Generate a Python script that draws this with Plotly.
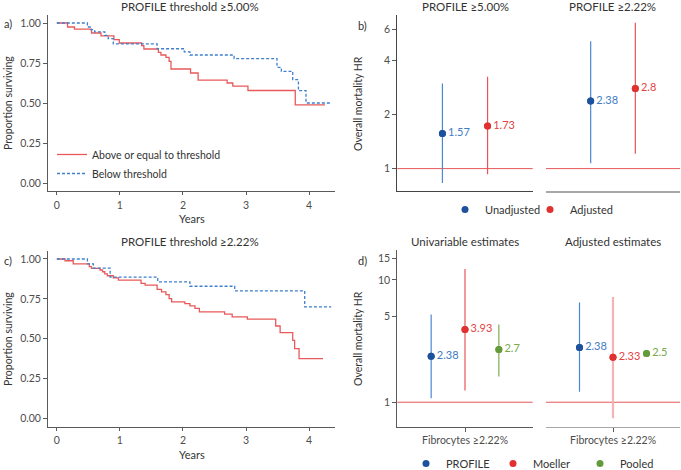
import plotly.graph_objects as go

# ---------------- data ----------------
# Kaplan-Meier, panel a (PROFILE threshold >=5.00%)
a_above_t = [0, 0.17, 0.28, 0.55, 0.70, 0.905, 0.99, 1.345, 1.38, 1.61, 1.65, 1.73, 1.78, 1.81,
             2.12, 2.24, 2.70, 2.79, 3.03, 3.78, 4.25]
a_above_s = [1.0, 0.975, 0.962, 0.9375, 0.92, 0.896, 0.875, 0.858, 0.8375, 0.817, 0.80, 0.785, 0.76,
             0.7125, 0.6875, 0.643, 0.625, 0.606, 0.578, 0.488, 0.488]
a_below_t = [0, 0.485, 0.54, 0.60, 0.76, 0.815, 0.895, 1.59, 2.02, 2.11, 2.81, 3.49, 3.56, 3.74,
             3.83, 3.95, 4.33]
a_below_s = [1.0, 0.975, 0.958, 0.944, 0.923, 0.902, 0.869, 0.839, 0.819, 0.80, 0.777, 0.723, 0.698,
             0.646, 0.577, 0.50, 0.50]

# Kaplan-Meier, panel c (PROFILE threshold >=2.22%)
c_above_t = [0, 0.13, 0.26, 0.515, 0.55, 0.685, 0.725, 0.76, 0.80, 0.895, 0.975, 1.335, 1.40, 1.59,
             1.66, 1.73, 1.78, 1.82, 2.03, 2.11, 2.19, 2.26, 2.66, 2.78, 3.02, 3.47, 3.54, 3.74, 3.77,
             3.84, 4.22]
c_above_s = [1.0, 0.989, 0.969, 0.952, 0.941, 0.931, 0.92, 0.906, 0.895, 0.882, 0.868, 0.847, 0.836,
             0.81, 0.794, 0.777, 0.752, 0.731, 0.72, 0.706, 0.69, 0.669, 0.654, 0.637, 0.623, 0.58,
             0.538, 0.49, 0.438, 0.375, 0.375]
c_below_t = [0, 0.485, 0.58, 0.845, 1.60, 2.11, 2.82, 3.93, 4.35]
c_below_s = [1.0, 0.969, 0.943, 0.886, 0.857, 0.829, 0.80, 0.70, 0.70]

km_ticks_x = [0, 1, 2, 3, 4]
km_ticks_y = [0.0, 0.25, 0.5, 0.75, 1.0]
km_tick_text_y = ["0.00", "0.25", "0.50", "0.75", "1.00"]

# Panel b: hazard ratios
b_panels = ["PROFILE ≥5.00%", "PROFILE ≥2.22%"]
b_series = ["Unadjusted", "Adjusted"]
b_unadj_hr = [1.57, 2.38]
b_unadj_lo = [0.83, 1.07]
b_unadj_hi = [2.98, 5.14]
b_unadj_lab = ["1.57", "2.38"]
b_adj_hr = [1.73, 2.8]
b_adj_lo = [0.93, 1.21]
b_adj_hi = [3.25, 6.51]
b_adj_lab = ["1.73", "2.8"]
b_ticks = [1, 2, 4, 6]

# Panel d: hazard ratios
d_panels = ["Univariable estimates", "Adjusted estimates"]
d_series = ["PROFILE", "Moeller", "Pooled"]
d_category = "Fibrocytes ≥2.22%"
d_univ_hr = [2.38, 3.93, 2.7]
d_univ_lo = [1.08, 1.25, 1.62]
d_univ_hi = [5.23, 12.3, 4.33]
d_univ_lab = ["2.38", "3.93", "2.7"]
d_adj_hr = [2.8, 2.33, 2.5]
d_adj_lo = [1.22, 0.74, 2.5]
d_adj_hi = [6.53, 7.26, 2.5]
d_adj_lab = ["2.38", "2.33", "2.5"]
d_ticks = [1, 5, 10, 15]

# ---------------- style ----------------
W, H = 681, 470
FONT = "Lato"
TXT = "#333333"
RED_KM = "#e8595b"
BLUE_KM = "#3f7fcc"
PT = {"PROFILE": "#1d519e", "Moeller": "#e0302f", "Pooled": "#649b3a",
      "Unadjusted": "#1d519e", "Adjusted": "#e0302f"}
LAB = {"PROFILE": "#3f7cc4", "Moeller": "#e24444", "Pooled": "#78a84c",
       "Unadjusted": "#3f7cc4", "Adjusted": "#e24444"}
CI = {"PROFILE": "#4d87cf", "Moeller": "#e65656", "Pooled": "#7eac52",
      "Unadjusted": "#4d87cf", "Adjusted": "#e65656"}


def fx(p):
    return p / W


def fy(p):
    return 1 - p / H


fig = go.Figure()

# ---------------- KM curves ----------------
for (t, s, name, col, dash, ax, show) in [
    (a_above_t, a_above_s, "Above or equal to threshold", RED_KM, "solid", "", True),
    (a_below_t, a_below_s, "Below threshold", BLUE_KM, "3px,2px", "", True),
    (c_above_t, c_above_s, "Above or equal to threshold", RED_KM, "solid", "2", False),
    (c_below_t, c_below_s, "Below threshold", BLUE_KM, "3px,2px", "2", False),
]:
    fig.add_trace(go.Scatter(x=t, y=s, mode="lines", name=name, line_shape="hv",
                             line=dict(color=col, width=1.3, dash=dash),
                             xaxis="x" + ax, yaxis="y" + ax, showlegend=show,
                             legend="legend", hoverinfo="skip"))


# ---------------- forest plots ----------------
def add_forest(xa, ya, series, hr, lo, hi, lab, show, legend, ci_override=None):
    ci_col = CI[series]
    ci_w = 1.2
    if ci_override:
        ci_col, ci_w = ci_override
    fig.add_trace(go.Scatter(
        x=[series], y=[hr], mode="markers", name=series,
        marker=dict(color=PT[series], size=7),
        error_y=dict(type="data", symmetric=False, array=[hi - hr], arrayminus=[hr - lo],
                     color=ci_col, thickness=ci_w, width=0),
        xaxis=xa, yaxis=ya, showlegend=show, legend=legend, hoverinfo="skip"))
    fig.add_trace(go.Scatter(
        x=[series], y=[hr], mode="markers", marker=dict(color=PT[series], size=7),
        xaxis=xa, yaxis=ya, showlegend=False, hoverinfo="skip"))
    fig.add_trace(go.Scatter(
        x=[series], y=[hr], mode="text", text=["\u00a0\u00a0" + lab],
        textposition="middle right",
        textfont=dict(color=LAB[series], size=11, family=FONT), cliponaxis=False,
        xaxis=xa, yaxis=ya, showlegend=False, hoverinfo="skip"))


# panel b
for i, (xa, ya) in enumerate([("x3", "y3"), ("x4", "y4")]):
    add_forest(xa, ya, "Unadjusted", b_unadj_hr[i], b_unadj_lo[i], b_unadj_hi[i], b_unadj_lab[i],
               i == 0, "legend2")
    add_forest(xa, ya, "Adjusted", b_adj_hr[i], b_adj_lo[i], b_adj_hi[i], b_adj_lab[i],
               i == 0, "legend2")

# panel d
for i, (xa, ya, hrs, los, his, labs) in enumerate([
        ("x5", "y5", d_univ_hr, d_univ_lo, d_univ_hi, d_univ_lab),
        ("x6", "y6", d_adj_hr, d_adj_lo, d_adj_hi, d_adj_lab)]):
    for j, s in enumerate(d_series):
        ov = None
        if i == 1 and s == "Moeller":
            ov = ("#f5b3b3", 2.2)
        add_forest(xa, ya, s, hrs[j], los[j], his[j], labs[j], i == 0, "legend3", ov)

# reference lines at HR = 1
for xa, ya in [("x3", "y3"), ("x4", "y4"), ("x5", "y5"), ("x6", "y6")]:
    fig.add_shape(type="line", xref=xa + " domain", yref=ya, x0=0, x1=1, y0=1, y1=1,
                  line=dict(color="#e8595b", width=1), layer="below")

# ---------------- axes ----------------
tickfont = dict(family=FONT, size=10.5, color="#4d4d4d")
AXC = "#5a5a5a"
GREY = "#a8a8a8"

km_x_dom = [fx(48), fx(335)]
common_km_x = dict(range=[-0.14, 4.41], tickvals=km_ticks_x, ticks="outside", ticklen=3,
                   tickcolor=AXC, showline=True, linecolor=AXC, linewidth=1, showgrid=False,
                   zeroline=False, tickfont=tickfont, automargin=False, ticklabelstandoff=1)
common_km_y = dict(range=[-0.05, 1.05], tickvals=km_ticks_y, ticktext=km_tick_text_y,
                   ticks="outside", ticklen=4, tickcolor=AXC, showline=True, linecolor=AXC,
                   linewidth=1, showgrid=False, zeroline=False, tickfont=tickfont,
                   automargin=False)

b_range = [-0.125, 0.857]
d_range = [-0.2, 1.245]

fig.update_layout(
    xaxis=dict(domain=km_x_dom, anchor="y", **common_km_x),
    yaxis=dict(domain=[fy(191), fy(15)], anchor="x", **common_km_y),
    xaxis2=dict(domain=km_x_dom, anchor="y2", **common_km_x),
    yaxis2=dict(domain=[fy(426.5), fy(251)], anchor="x2", **common_km_y),

    xaxis3=dict(domain=[fx(397.3), fx(532.7)], anchor="y3", type="category",
                categoryorder="array", categoryarray=b_series, range=[-1, 2],
                showticklabels=False, ticks="", showline=True, linecolor="#444444",
                showgrid=False, zeroline=False, automargin=False),
    yaxis3=dict(domain=[fy(191), fy(15)], anchor="x3", type="log", range=b_range,
                tickvals=b_ticks, ticks="outside", ticklen=4, tickcolor=AXC,
                showline=True, linecolor="#444444", showgrid=False, zeroline=False,
                tickfont=tickfont, automargin=False),
    xaxis4=dict(domain=[fx(546), fx(680)], anchor="y4", type="category",
                categoryorder="array", categoryarray=b_series, range=[-1, 2],
                showticklabels=False, ticks="", showline=True, linecolor=GREY, linewidth=1.5,
                showgrid=False, zeroline=False, automargin=False),
    yaxis4=dict(domain=[fy(191), fy(15)], anchor="x4", type="log", range=b_range,
                showticklabels=False, ticks="", showline=False, showgrid=False,
                zeroline=False, automargin=False),

    xaxis5=dict(domain=[fx(397.3), fx(532.7)], anchor="y5", type="category",
                categoryorder="array", categoryarray=d_series, range=[-1, 3],
                tickvals=["Moeller"], ticktext=[d_category], ticks="outside", ticklen=4,
                tickcolor=AXC, showline=True, linecolor=AXC, showgrid=False, zeroline=False,
                tickfont=tickfont, automargin=False),
    yaxis5=dict(domain=[fy(426.7), fy(250)], anchor="x5", type="log", range=d_range,
                tickvals=d_ticks, ticks="outside", ticklen=4, tickcolor=AXC,
                showline=True, linecolor=AXC, showgrid=False, zeroline=False,
                tickfont=tickfont, automargin=False),
    xaxis6=dict(domain=[fx(546), fx(680)], anchor="y6", type="category",
                categoryorder="array", categoryarray=d_series, range=[-1, 3],
                tickvals=["Moeller"], ticktext=[d_category], ticks="outside", ticklen=4,
                tickcolor=AXC, showline=True, linecolor=GREY, showgrid=False, zeroline=False,
                tickfont=tickfont, automargin=False),
    yaxis6=dict(domain=[fy(426.7), fy(250)], anchor="x6", type="log", range=d_range,
                showticklabels=False, ticks="", showline=False, showgrid=False,
                zeroline=False, automargin=False),
)

# ---------------- legends ----------------
lfont = dict(family=FONT, size=11, color=TXT)
fig.update_layout(
    legend=dict(x=fx(52), y=fy(140), xanchor="left", yanchor="top", orientation="v",
                bgcolor="rgba(0,0,0,0)", font=dict(family=FONT, size=10.5, color=TXT),
                tracegroupgap=0, itemwidth=30),
    legend2=dict(x=fx(445), y=fy(195), xanchor="left", yanchor="top", orientation="h",
                 bgcolor="rgba(0,0,0,0)", font=lfont, itemwidth=30,
                 entrywidth=40, entrywidthmode="pixels"),
    legend3=dict(x=fx(406), y=fy(449), xanchor="left", yanchor="top", orientation="h",
                 bgcolor="rgba(0,0,0,0)", font=lfont, itemwidth=30,
                 entrywidth=42, entrywidthmode="pixels"),
)

# ---------------- text annotations ----------------
ann = []


def txt(x, y, s, size=11, angle=0, xanchor="center"):
    ann.append(dict(x=fx(x), y=fy(y), xref="paper", yref="paper", text=s, showarrow=False,
                    xanchor=xanchor, yanchor="middle", textangle=angle,
                    font=dict(family=FONT, size=size, color=TXT)))


txt(190, 7, "PROFILE threshold ≥5.00%", size=11.5)
txt(190, 241.5, "PROFILE threshold ≥2.22%", size=11.5)
txt(192.5, 218.5, "Years")
txt(192.5, 454, "Years")
txt(8, 103, "Proportion surviving", size=10.5, angle=-90)
txt(8, 339, "Proportion surviving", size=10.5, angle=-90)
txt(7.5, 24, "a)")
txt(7.5, 260, "c)")
txt(465, 7, b_panels[0], size=11.5)
txt(612.7, 7, b_panels[1], size=11.5)
txt(465, 241.5, d_panels[0], size=11.5)
txt(612.7, 241.5, d_panels[1], size=11.5)
txt(358, 104, "Overall mortality HR", size=10.5, angle=-90)
txt(358, 339, "Overall mortality HR", size=10.5, angle=-90)
txt(362.5, 25, "b)")
txt(362.5, 260, "d)")

fig.update_layout(
    annotations=ann,
    width=W, height=H,
    margin=dict(l=0, r=0, t=0, b=0, autoexpand=False),
    paper_bgcolor="white", plot_bgcolor="white",
    font=dict(family=FONT, color=TXT),
    hovermode=False,
)

fig.write_html("out.html", config={"displayModeBar": False},
               post_script="document.body.style.margin='0';document.body.style.overflow='hidden';")
